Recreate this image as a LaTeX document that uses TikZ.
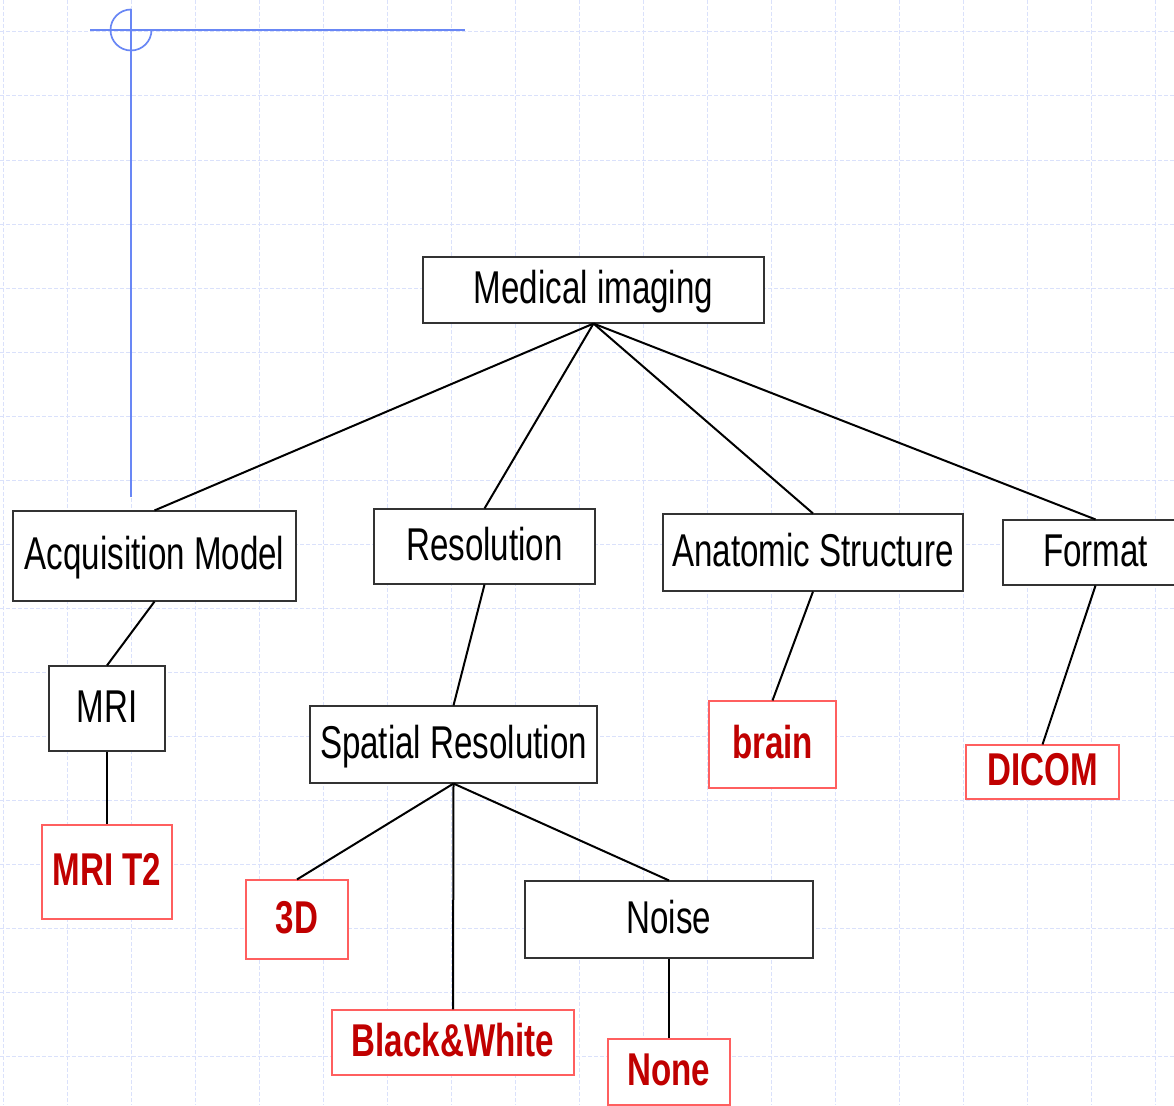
\documentclass[tikz,border=0pt]{standalone}
\usepackage{fontspec}
\newfontfamily\nf[FakeStretch=0.72]{Liberation Sans}
\definecolor{gridblue}{RGB}{218,225,251}
\definecolor{guideblue}{RGB}{105,135,245}
\definecolor{termred}{RGB}{192,0,0}
\definecolor{termframe}{RGB}{255,95,95}
\begin{document}
\begin{tikzpicture}[x=1pt,y=-1pt,
  gridline/.style={gridblue, line width=1pt, dash pattern=on 4pt off 2pt},
  guide/.style={guideblue, line width=1.7pt},
  box/.style={draw=black!80, line width=1.1pt, fill=white, inner sep=0pt,
    text height=33pt, text depth=6pt,
    font=\nf\fontsize{46}{50}\selectfont},
  term/.style={draw=termframe, line width=1.1pt, fill=white, inner sep=0pt,
    text height=33pt, text depth=6pt, text=termred,
    font=\nf\bfseries\fontsize{46}{50}\selectfont},
  link/.style={line width=2pt, black}]

\clip (0,0) rectangle (1174,1105);
\fill[white] (0,0) rectangle (1174,1105);

% background grid
\foreach \x in {3,67,...,1155} \draw[gridline] (\x,0) -- (\x,1105);
\foreach \y in {32,96,...,1056} \draw[gridline] (0,\y) -- (1174,\y);

% guide cross
\coordinate (gh0) at (90,30);
\coordinate (gh1) at (465,30);
\coordinate (gv0) at (131,9);
\coordinate (gv1) at (131,497);
\draw[guide] (gh0) -- (gh1);
\draw[guide] (gv0) -- (gv1);
\draw[guide] (131,9.5) arc[start angle=90, end angle=360, radius=20.5pt];

% concept nodes
\node[box, minimum width=341pt, minimum height=66pt] (med) at (593.5,290) {Medical imaging};
\node[box, minimum width=283pt, minimum height=90pt] (acq) at (154.5,556) {Acquisition Model};
\node[box, minimum width=221pt, minimum height=75pt] (res) at (484.5,546.5) {Resolution};
\node[box, minimum width=300pt, minimum height=77pt] (ana) at (813,552.5) {Anatomic Structure};
\node[box, minimum width=185pt, minimum height=65pt] (fmt) at (1095.5,552.5) {Format};
\node[box, minimum width=116pt, minimum height=85pt] (mri) at (107,708.5) {MRI};
\node[box, minimum width=287pt, minimum height=77pt] (spa) at (453.5,744.5) {Spatial Resolution};
\node[box, minimum width=288pt, minimum height=77pt] (noise) at (669,919.5) {Noise};

% value nodes
\node[term, minimum width=130pt, minimum height=94pt] (mrit) at (107,872) {MRI T2};
\node[term, minimum width=102pt, minimum height=79pt] (d3) at (297,919.5) {3D};
\node[term, minimum width=242pt, minimum height=65pt] (bw) at (453,1042.5) {Black\&White};
\node[term, minimum width=122pt, minimum height=66pt] (none) at (669,1072) {None};
\node[term, minimum width=127pt, minimum height=87pt] (brain) at (772.5,744.5) {brain};
\node[term, minimum width=153pt, minimum height=54pt] (dicom) at (1042.5,772) {DICOM};

% links
\draw[link] (med.south) -- (acq.north);
\draw[link] (med.south) -- (res.north);
\draw[link] (med.south) -- (ana.north);
\draw[link] (med.south) -- (fmt.north);
\draw[link] (acq.south) -- (mri.north);
\draw[link] (mri.south) -- (mrit.north);
\draw[link] (res.south) -- (spa.north);
\draw[link] (spa.south) -- (d3.north);
\draw[link] (spa.south) -- (bw.north);
\draw[link] (spa.south) -- (noise.north);
\draw[link] (noise.south) -- (none.north);
\draw[link] (ana.south) -- (brain.north);
\draw[link] (fmt.south) -- (dicom.north);
\end{tikzpicture}
\end{document}
